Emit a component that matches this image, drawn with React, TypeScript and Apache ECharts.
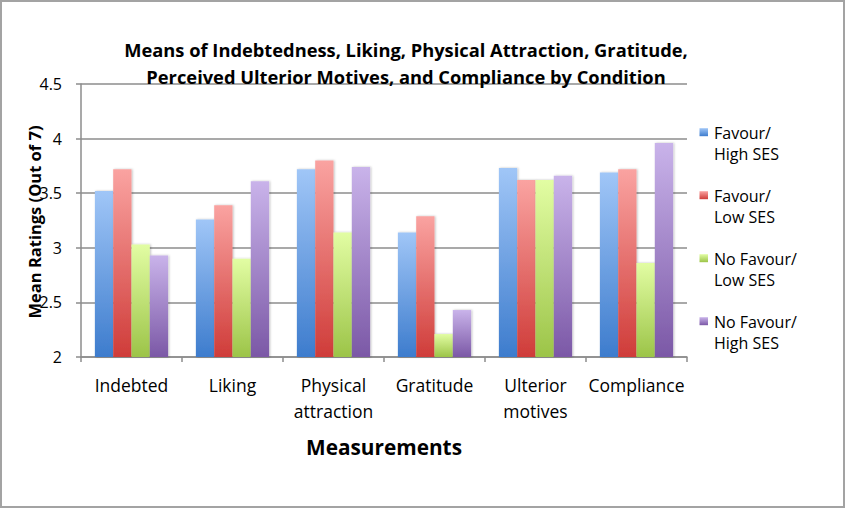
import React, { useEffect, useRef } from "react";
import * as echarts from "echarts";

const categories = ["Indebted", "Liking", "Physical\nattraction", "Gratitude", "Ulterior\nmotives", "Compliance"];
const seriesNames = ["Favour/\nHigh SES", "Favour/\nLow SES", "No Favour/\nLow SES", "No Favour/\nHigh SES"];
const favourHigh = [3.52, 3.26, 3.72, 3.14, 3.73, 3.69];
const favourLow = [3.72, 3.39, 3.8, 3.29, 3.62, 3.72];
const noFavourLow = [3.03, 2.9, 3.14, 2.21, 3.62, 2.86];
const noFavourHigh = [2.93, 3.61, 3.74, 2.43, 3.66, 3.96];
const seriesData = [favourHigh, favourLow, noFavourLow, noFavourHigh];
const yTicks = { min: 2, max: 4.5, interval: 0.5 };

const gradients = [
  ["#a0c6f7", "#3d7ccd"],
  ["#faa3a1", "#cf3c39"],
  ["#e2fda3", "#9cc448"],
  ["#c9b3ea", "#7b58a6"],
];

const FONT = "'Open Sans'";

export default function App() {
  const ref = useRef<HTMLDivElement>(null);
  useEffect(() => {
    if (!ref.current) return;
    const chart = echarts.init(ref.current, null, { renderer: "svg" });
    const grad = (i: number) =>
      new echarts.graphic.LinearGradient(0, 0, 0, 1, [
        { offset: 0, color: gradients[i][0] },
        { offset: 1, color: gradients[i][1] },
      ]);
    const legendGraphics: any[] = [];
    seriesNames.forEach((name, i) => {
      const yBase = 132.7 + i * 63;
      legendGraphics.push({
        type: "rect",
        shape: { x: 699.5, y: yBase - 4.5, width: 8.5, height: 8 },
        style: { fill: grad(i) },
      });
      legendGraphics.push({
        type: "text",
        x: 714,
        y: yBase - 10.5,
        style: {
          text: name,
          font: `16px ${FONT}`,
          lineHeight: 21,
          fill: "#000",
          verticalAlign: "top",
          align: "left",
        },
      });
    });
    chart.setOption({
      animation: false,
      backgroundColor: "#fff",
      title: {
        text: "Means of Indebtedness, Liking, Physical Attraction, Gratitude,\nPerceived Ulterior Motives, and Compliance by Condition",
        left: 401,
        top: 31,
        textAlign: "center",
        textStyle: { fontFamily: FONT, fontWeight: "bold", fontSize: 18.3, lineHeight: 27, color: "#000" },
      },
      grid: { left: 81, right: 159, top: 84, bottom: 152, containLabel: false },
      xAxis: {
        type: "category",
        data: categories,
        axisLine: { lineStyle: { color: "#8c8c8c", width: 1.5 } },
        axisTick: { show: true, length: 5, lineStyle: { color: "#8c8c8c", width: 1.5 } },
        axisLabel: { color: "#000", fontFamily: FONT, fontSize: 17.5, lineHeight: 26, margin: 15, interval: 0 },
      },
      yAxis: {
        type: "value",
        min: yTicks.min,
        max: yTicks.max,
        interval: yTicks.interval,
        axisLine: { show: true, lineStyle: { color: "#8c8c8c", width: 1.5 } },
        axisTick: { show: true, inside: false, length: 5, lineStyle: { color: "#8c8c8c", width: 1.5 } },
        axisLabel: { color: "#000", fontFamily: FONT, fontSize: 16, margin: 19 },
        splitLine: { lineStyle: { color: "#8c8c8c", width: 1.5 } },
      },
      series: seriesData.map((d, i) => ({
        type: "bar",
        name: seriesNames[i],
        data: d,
        barGap: "0%",
        barCategoryGap: "27.5%",
        itemStyle: {
          color: grad(i),
          shadowColor: "rgba(0,0,0,0.25)",
          shadowBlur: 2,
          shadowOffsetX: 1,
          shadowOffsetY: 0,
        },
      })),
      graphic: [
        {
          type: "rect",
          shape: { x: 1, y: 1, width: 843, height: 506 },
          style: { fill: "none", stroke: "#a3a3a3", lineWidth: 2 },
          silent: true,
        },
        {
          type: "text",
          x: 34,
          y: 222,
          rotation: Math.PI / 2,
          style: {
            text: "Mean Ratings (Out of 7)",
            font: `bold 16.5px ${FONT}`,
            fill: "#000",
            align: "center",
            verticalAlign: "middle",
          },
        },
        {
          type: "text",
          x: 384,
          y: 447,
          style: {
            text: "Measurements",
            font: `bold 20.8px ${FONT}`,
            fill: "#000",
            align: "center",
            verticalAlign: "middle",
          },
        },
        ...legendGraphics,
      ],
    });
    return () => chart.dispose();
  }, []);
  return (
    <div
      ref={ref}
      style={{ position: "fixed", left: 0, top: 0, width: 846, height: 509 }}
    />
  );
}
